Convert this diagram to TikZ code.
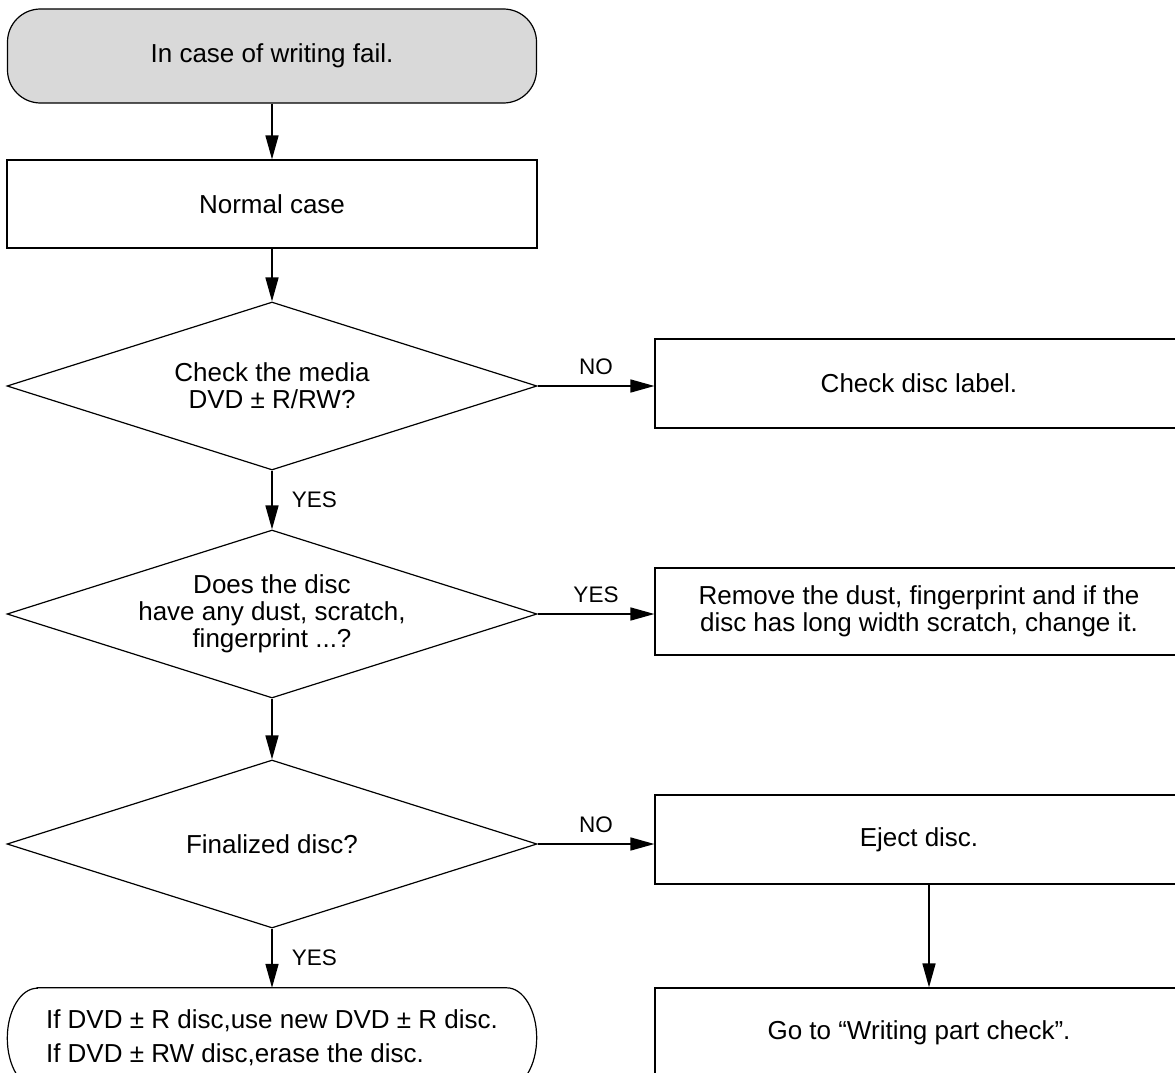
\documentclass[tikz,border=0pt]{standalone}
\usepackage{fontspec}
\setmainfont{Liberation Sans}
\usetikzlibrary{shapes.geometric,arrows.meta}
\begin{document}
\begin{tikzpicture}[x=1pt,y=-1pt,
  txt/.style={font=\fontsize{26}{27}\selectfont, align=center},
  lab/.style={font=\fontsize{22.5}{24}\selectfont, inner sep=3pt},
  startbox/.style={txt, draw, line width=1.2pt, fill=black!15, rounded corners=33pt,
    minimum width=529pt, minimum height=94pt, inner sep=0pt},
  procbox/.style={txt, draw, line width=1.2pt, minimum width=530pt, minimum height=88pt, inner sep=0pt},
  rbox/.style={txt, draw, line width=1.2pt, minimum width=528pt, minimum height=89pt, inner sep=0pt},
  dec/.style={txt, draw, line width=1.2pt, shape=diamond, aspect=3.15,
    minimum width=530pt, minimum height=168pt, inner sep=0pt},
  arr/.style={line width=1.6pt, -{Triangle[length=24pt,width=13pt]}}
]
\useasboundingbox (0,0) rectangle (1175,1073);

\node[startbox] (start) at (272,56) {In case of writing fail.};
\node[procbox] (normal) at (272,204) {Normal case};
\node[dec] (d1) at (272,386) {Check the media\\DVD ± R/RW?};
\node[rbox] (chk) at (919,383.5) {Check disc label.};
\node[dec] (d2) at (272,614) {Does the disc\\have any dust, scratch,\\fingerprint ...?};
\node[rbox, minimum height=87pt] (rem) at (919,611.5) {Remove the dust, fingerprint and if the\\disc has long width scratch, change it.};
\node[dec] (d3) at (272,844) {Finalized disc?};
\node[rbox] (ej) at (919,839.5) {Eject disc.};
\node[rbox] (go) at (919,1032.5) {Go to “Writing part check”.};
\node[minimum width=529pt, minimum height=100pt, inner sep=0pt, align=left,
  font=\fontsize{26}{34}\selectfont] (fin) at (272,1038)
  {If DVD ± R disc,use new DVD ± R disc.\\If DVD ± RW disc,erase the disc.};
\draw[line width=1.2pt] ([xshift=30pt]fin.north west) -- ([xshift=-30pt]fin.north east)
  arc[start angle=90,end angle=-90,x radius=30pt,y radius=50pt]
  -- ([xshift=30pt]fin.south west)
  arc[start angle=270,end angle=90,x radius=30pt,y radius=50pt] -- cycle;

\draw[arr] (start.south) -- (normal.north);
\draw[arr] (normal.south) -- (d1.north);
\draw[arr] (d1.south) -- node[midway, right=16pt, lab] {YES} (d2.north);
\draw[arr] (d2.south) -- (d3.north);
\draw[arr] (d3.south) -- node[midway, right=16pt, lab] {YES} (fin.north);
\draw[arr] (d1.east) -- node[midway, above=7pt, lab] {NO} (d1.east -| chk.west);
\draw[arr] (d2.east) -- node[midway, above=7pt, lab] {YES} (d2.east -| rem.west);
\draw[arr] (d3.east) -- node[midway, above=7pt, lab] {NO} (d3.east -| ej.west);
\draw[arr] ([xshift=10pt]ej.south) -- ([xshift=10pt]go.north);
\end{tikzpicture}
\end{document}
